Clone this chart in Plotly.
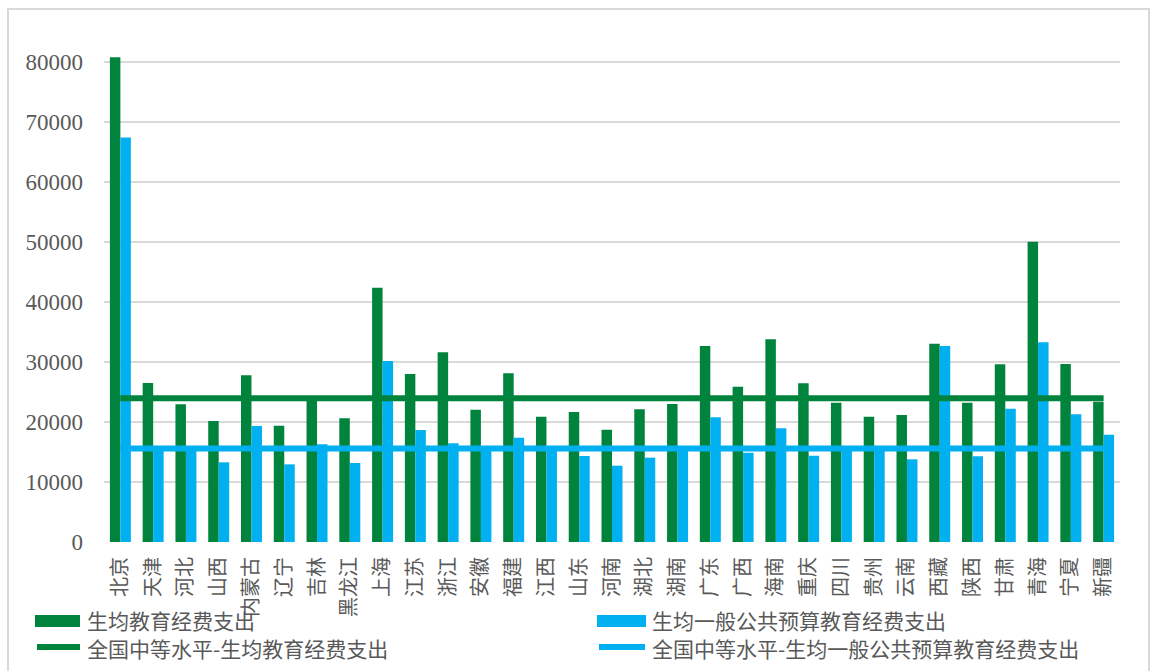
import plotly.graph_objects as go

provinces = ["北京", "天津", "河北", "山西", "内蒙古", "辽宁", "吉林", "黑龙江", "上海", "江苏",
             "浙江", "安徽", "福建", "江西", "山东", "河南", "湖北", "湖南", "广东", "广西",
             "海南", "重庆", "四川", "贵州", "云南", "西藏", "陕西", "甘肃", "青海", "宁夏", "新疆"]

per_student_total = [80800, 26500, 22950, 20170, 27780, 19390, 23950, 20610, 42390, 28000,
                     31610, 22060, 28110, 20890, 21670, 18720, 22110, 23000, 32670, 25890,
                     33780, 26440, 23220, 20890, 21170, 33060, 23220, 29610, 50050, 29670, 23390]

per_student_budget = [67400, 15450, 15300, 13280, 19330, 12940, 16280, 13170, 30170, 18670,
                      16440, 15350, 17390, 15500, 14330, 12720, 14060, 15600, 20780, 14890,
                      18940, 14390, 15580, 15200, 13780, 32670, 14280, 22220, 33280, 21280, 17890]

median_total = 23950
median_budget = 15580

y_ticks = [0, 10000, 20000, 30000, 40000, 50000, 60000, 70000, 80000]

names = ["生均教育经费支出", "生均一般公共预算教育经费支出",
         "全国中等水平-生均教育经费支出", "全国中等水平-生均一般公共预算教育经费支出"]

GREEN = "#00843D"
BLUE = "#00B0F0"
GREY = "#595959"

W, H = 1153, 671
L, R, T, B = 104, 33, 50, 129
PW = W - L - R
PH = H - T - B


def px(x):
    return (x - L) / PW


def py(y):
    return (H - B - y) / PH


fig = go.Figure()
fig.add_trace(go.Bar(x=provinces, y=per_student_total, name=names[0], marker_color=GREEN,
                     marker_line_width=0))
fig.add_trace(go.Bar(x=provinces, y=per_student_budget, name=names[1], marker_color=BLUE,
                     marker_line_width=0))
fig.add_trace(go.Scatter(x=provinces, y=[median_total] * len(provinces), name=names[2],
                         mode="lines", line=dict(color=GREEN, width=6)))
fig.add_trace(go.Scatter(x=provinces, y=[median_budget] * len(provinces), name=names[3],
                         mode="lines", line=dict(color=BLUE, width=6)))

shapes = [
    dict(type="rect", xref="paper", yref="paper", x0=px(8), x1=px(1149), y0=py(9), y1=py(700),
         line=dict(color="#d9d9d9", width=2), fillcolor="rgba(0,0,0,0)", layer="below"),
    dict(type="rect", xref="paper", yref="paper", x0=px(35), x1=px(80), y0=py(615), y1=py(627),
         line=dict(width=0), fillcolor=GREEN),
    dict(type="rect", xref="paper", yref="paper", x0=px(597), x1=px(646), y0=py(615), y1=py(627),
         line=dict(width=0), fillcolor=BLUE),
    dict(type="line", xref="paper", yref="paper", x0=px(37), x1=px(80), y0=py(647), y1=py(647),
         line=dict(color=GREEN, width=6)),
    dict(type="line", xref="paper", yref="paper", x0=px(599), x1=px(645), y0=py(647), y1=py(647),
         line=dict(color=BLUE, width=6)),
]

legend_font = dict(family="Noto Sans CJK SC", size=21, color=GREY)
annotations = [
    dict(xref="paper", yref="paper", x=px(85), y=py(620), text=names[0], showarrow=False,
         xanchor="left", yanchor="middle", font=legend_font),
    dict(xref="paper", yref="paper", x=px(650), y=py(620), text=names[1], showarrow=False,
         xanchor="left", yanchor="middle", font=legend_font),
    dict(xref="paper", yref="paper", x=px(85), y=py(648), text=names[2], showarrow=False,
         xanchor="left", yanchor="middle", font=legend_font),
    dict(xref="paper", yref="paper", x=px(650), y=py(648), text=names[3], showarrow=False,
         xanchor="left", yanchor="middle", font=legend_font),
]

fig.update_layout(
    width=W, height=H,
    margin=dict(l=L, r=R, t=T, b=B, pad=0),
    paper_bgcolor="white", plot_bgcolor="white",
    barmode="group", bargap=0.36, bargroupgap=0,
    showlegend=False,
    shapes=shapes,
    annotations=annotations,
    xaxis=dict(type="category", tickangle=-90, showgrid=False, zeroline=False, showline=False,
               ticks="", ticklabelstandoff=10,
               tickfont=dict(family="Noto Sans CJK SC", size=20, color=GREY)),
    yaxis=dict(range=[0, 82000], tickvals=y_ticks, ticktext=[str(v) for v in y_ticks],
               showgrid=True, gridcolor="#d9d9d9", gridwidth=2, zeroline=False, showline=False,
               ticks="", ticklabelstandoff=20,
               tickfont=dict(family="Liberation Serif", size=23, color=GREY)),
)

fig.write_html("out.html")
